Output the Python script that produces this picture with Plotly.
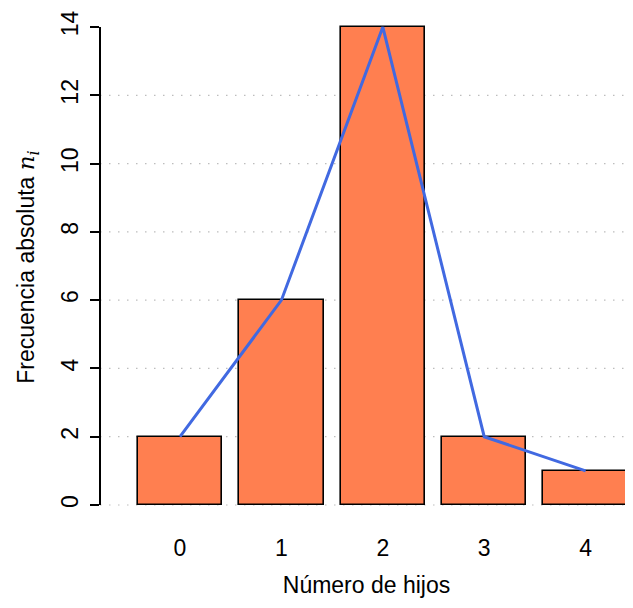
import plotly.graph_objects as go

categorias = ["0", "1", "2", "3", "4"]
frecuencias = [2, 6, 14, 2, 1]
y_ticks = [0, 2, 4, 6, 8, 10, 12, 14]
grid_vals = [0, 2, 4, 6, 8, 10, 12]

x_pos = list(range(len(categorias)))

fig = go.Figure()
fig.add_trace(go.Bar(
    x=x_pos, y=frecuencias, width=0.833,
    marker=dict(color="#FF7F50", line=dict(color="black", width=1.6)),
    showlegend=False, hoverinfo="skip"))
fig.add_trace(go.Scatter(
    x=x_pos, y=frecuencias, mode="lines",
    line=dict(color="#4169E1", width=3),
    showlegend=False, hoverinfo="skip"))

shapes = []
for g in grid_vals:
    shapes.append(dict(type="line", xref="paper", yref="y", x0=0, x1=1, y0=g, y1=g,
                       line=dict(color="#bdbdbd", width=1.2, dash="1.5px,7.5px"), layer="below"))
shapes.append(dict(type="line", xref="paper", yref="y", x0=0, x1=0,
                   y0=y_ticks[0], y1=y_ticks[-1], line=dict(color="black", width=2)))
fig.update_layout(shapes=shapes)

font_fam = "Liberation Sans, Arial, sans-serif"
fig.update_layout(
    width=625, height=600,
    margin=dict(l=92, r=0, t=0, b=82, autoexpand=False),
    plot_bgcolor="white", paper_bgcolor="white",
    font=dict(family=font_fam, size=23, color="black"),
    bargap=0,
    xaxis=dict(range=[-0.789, 4.467], tickvals=x_pos, ticktext=categorias,
               showgrid=False, zeroline=False, showline=False, ticks="",
               ticklabelstandoff=6,
               title=dict(text="Número de hijos", standoff=16, font=dict(size=23))),
    yaxis=dict(range=[-0.615, 14.557], tickvals=y_ticks, ticktext=[str(v) for v in y_ticks],
               showgrid=False, zeroline=False, showline=False,
               ticks="outside", ticklen=9, tickwidth=2, tickcolor="black",
               tickangle=-90, ticklabelstandoff=3,
               title=dict(text='Frecuencia absoluta <span style="font-family:DejaVu Serif, serif"><i>n<sub>i</sub></i></span>',
                          standoff=15, font=dict(size=23))),
)

fig.write_html("out.html")
